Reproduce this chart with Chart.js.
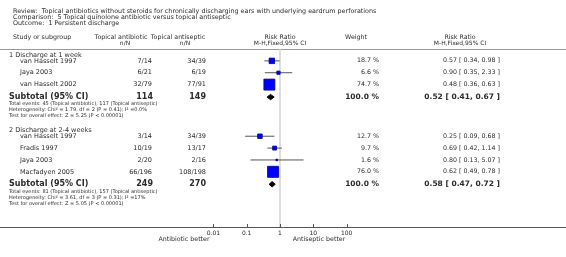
<!DOCTYPE html>
<html>
<head>
<meta charset="utf-8">
<script src="https://cdn.jsdelivr.net/npm/chart.js@4.4.1/dist/chart.umd.min.js"></script>
<style>
  html, body { margin: 0; padding: 0; background: #fff; }
  #wrap { width: 566px; height: 257px; position: relative; }
</style>
</head>
<body>
<div id="wrap"><canvas id="forest"></canvas></div>
<script>
const reviewTitle = 'Review:  Topical antibiotics without steroids for chronically discharging ears with underlying eardrum perforations';
const comparisonTitle = 'Comparison:  5 Topical quinolone antibiotic versus topical antiseptic';
const outcomeTitle = 'Outcome:  1 Persistent discharge';

const groupTitles = ['1 Discharge at 1 week', '2 Discharge at 2-4 weeks'];
const studyNames = [
  ['van Hasselt 1997', 'Jaya 2003', 'van Hasselt 2002'],
  ['van Hasselt 1997', 'Fradis 1997', 'Jaya 2003', 'Macfadyen 2005']
];
const antibioticNN = [['7/14', '6/21', '32/79'], ['3/14', '10/19', '2/20', '66/196']];
const antisepticNN = [['34/39', '6/19', '77/91'], ['34/39', '13/17', '2/16', '108/198']];
const weights = [[18.7, 6.6, 74.7], [12.7, 9.7, 1.6, 76.0]];
const riskRatio = [[0.57, 0.90, 0.48], [0.25, 0.69, 0.80, 0.62]];
const ciLow = [[0.34, 0.35, 0.36], [0.09, 0.42, 0.13, 0.49]];
const ciHigh = [[0.98, 2.33, 0.63], [0.68, 1.14, 5.07, 0.78]];

const subtotalN = [[114, 149], [249, 270]];
const subtotalRR = [0.52, 0.58];
const subtotalLow = [0.41, 0.47];
const subtotalHigh = [0.67, 0.72];
const totalEvents = [[45, 117], [81, 157]];
const heterogeneity = ['Chi\u00b2 = 1.79, df = 2 (P = 0.41); I\u00b2 =0.0%', 'Chi\u00b2 = 3.61, df = 3 (P = 0.31); I\u00b2 =17%'];
const overallEffect = ['Z = 5.25 (P < 0.00001)', 'Z = 5.05 (P < 0.00001)'];

const xTicks = [0.01, 0.1, 1, 10, 100];

// row layout, in "line" units down from the header rule
const rows = [];
let pos = 1.0;
groupTitles.forEach((g, gi) => {
  rows.push({kind: 'group', y: pos, gi});
  pos += 1.0;
  studyNames[gi].forEach((n, i) => {
    if (i > 0) pos += 2;
    rows.push({kind: 'study', y: pos, gi, i});
  });
  pos += 2.1;
  rows.push({kind: 'subtotal', y: pos, gi});
  pos += 1.2;
  rows.push({kind: 'foot', y: pos, text: 'Total events: ' + totalEvents[gi][0] + ' (Topical antibiotic), ' + totalEvents[gi][1] + ' (Topical antiseptic)'});
  pos += 1.0;
  rows.push({kind: 'foot', y: pos, text: 'Heterogeneity: ' + heterogeneity[gi]});
  pos += 1.0;
  rows.push({kind: 'foot', y: pos, text: 'Test for overall effect: ' + overallEffect[gi]});
  pos += 2.4;
});
const Y_MAX = 30;

const rrText = (rr, lo, hi) => rr.toFixed(2) + ' [ ' + lo.toFixed(2) + ', ' + hi.toFixed(2) + ' ]';

// datasets
const studyRows = rows.filter(r => r.kind === 'study');
const ciData = [];
studyRows.forEach(r => {
  ciData.push({x: ciLow[r.gi][r.i], y: r.y});
  ciData.push({x: ciHigh[r.gi][r.i], y: r.y});
  ciData.push({x: 1, y: null});
});
const squareData = studyRows.map(r => ({x: riskRatio[r.gi][r.i], y: r.y}));
const squareRadius = studyRows.map(r => 1.27 * Math.sqrt(weights[r.gi][r.i]) / Math.SQRT2);

const diamondSets = rows.filter(r => r.kind === 'subtotal').map(r => ({
  type: 'line',
  data: [
    {x: subtotalLow[r.gi], y: r.y},
    {x: subtotalRR[r.gi], y: r.y - 0.45},
    {x: subtotalHigh[r.gi], y: r.y},
    {x: subtotalRR[r.gi], y: r.y + 0.45},
    {x: subtotalLow[r.gi], y: r.y}
  ],
  borderColor: '#000',
  backgroundColor: '#000',
  borderWidth: 1,
  fill: 'shape',
  pointRadius: 0,
  tension: 0,
  order: 1
}));

const FONT = '"DejaVu Sans", sans-serif';
const INK = '#2b2b2b';

function txt(ctx, s, x, y, size, align, bold) {
  ctx.font = (bold ? 'bold ' : '') + size + 'px ' + FONT;
  ctx.textAlign = align || 'left';
  ctx.textBaseline = 'middle';
  ctx.fillStyle = INK;
  ctx.fillText(s, x, y);
}

const tablePlugin = {
  id: 'forestTable',
  beforeDatasetsDraw(chart) {
    const ctx = chart.ctx;
    const area = chart.chartArea;
    ctx.save();
    ctx.strokeStyle = '#9a9a9a';
    ctx.lineWidth = 1;
    ctx.beginPath();
    ctx.moveTo(0, area.top + 0.5);
    ctx.lineTo(chart.width, area.top + 0.5);
    ctx.stroke();
    ctx.restore();
  },
  afterDraw(chart) {
    const ctx = chart.ctx;
    const xs = chart.scales.x;
    const ys = chart.scales.y;
    const area = chart.chartArea;
    const zero = xs.getPixelForValue(1);
    ctx.save();

    txt(ctx, reviewTitle, 13, 11.5, 6.4);
    txt(ctx, comparisonTitle, 13, 17.4, 6.4);
    txt(ctx, outcomeTitle, 13, 23.3, 6.4);

    const h1 = 37.5, h2 = 43.3;
    txt(ctx, 'Study or subgroup', 13, h1, 6.3);
    txt(ctx, 'Topical antibiotic', 121, h1, 6.3, 'center');
    txt(ctx, 'n/N', 125, h2, 6, 'center');
    txt(ctx, 'Topical antiseptic', 178, h1, 6.3, 'center');
    txt(ctx, 'n/N', 185, h2, 6, 'center');
    txt(ctx, 'Risk Ratio', zero, h1, 6.3, 'center');
    txt(ctx, 'M-H,Fixed,95% CI', zero, h2, 6, 'center');
    txt(ctx, 'Weight', 356, h1, 6.3, 'center');
    txt(ctx, 'Risk Ratio', 460, h1, 6.3, 'center');
    txt(ctx, 'M-H,Fixed,95% CI', 460, h2, 6, 'center');

    rows.forEach(r => {
      const y = ys.getPixelForValue(r.y);
      if (r.kind === 'group') {
        txt(ctx, groupTitles[r.gi], 9, y, 6.5);
      } else if (r.kind === 'study') {
        txt(ctx, studyNames[r.gi][r.i], 20, y, 6.5);
        txt(ctx, antibioticNN[r.gi][r.i], 152, y, 6.5, 'right');
        txt(ctx, antisepticNN[r.gi][r.i], 206, y, 6.5, 'right');
        txt(ctx, weights[r.gi][r.i].toFixed(1) + ' %', 379, y, 6.3, 'right');
        txt(ctx, rrText(riskRatio[r.gi][r.i], ciLow[r.gi][r.i], ciHigh[r.gi][r.i]), 500, y, 6.3, 'right');
      } else if (r.kind === 'subtotal') {
        txt(ctx, 'Subtotal (95% CI)', 9, y, 8, 'left', true);
        txt(ctx, String(subtotalN[r.gi][0]), 153, y, 8, 'right', true);
        txt(ctx, String(subtotalN[r.gi][1]), 206, y, 8, 'right', true);
        txt(ctx, '100.0 %', 379, y, 7.5, 'right', true);
        txt(ctx, rrText(subtotalRR[r.gi], subtotalLow[r.gi], subtotalHigh[r.gi]), 500, y, 7.5, 'right', true);
      } else {
        txt(ctx, r.text, 9, y, 5, 'left');
      }
    });

    // tick marks pointing up from the axis
    ctx.strokeStyle = '#555';
    ctx.lineWidth = 1;
    xTicks.forEach(v => {
      const x = Math.round(xs.getPixelForValue(v)) + 0.5;
      ctx.beginPath();
      ctx.moveTo(x, area.bottom);
      ctx.lineTo(x, area.bottom - 3);
      ctx.stroke();
    });

    const ly = xs.bottom;
    txt(ctx, 'Antibiotic better', zero - 96, ly, 6.3, 'center');
    txt(ctx, 'Antiseptic better', zero + 39, ly, 6.3, 'center');
    ctx.restore();
  }
};

new Chart(document.getElementById('forest'), {
  type: 'scatter',
  data: {
    datasets: [
      {
        type: 'line',
        data: [{x: 1, y: 0}, {x: 1, y: Y_MAX}],
        borderColor: '#d4d4d4',
        borderWidth: 1.5,
        pointRadius: 0,
        order: 4
      },
      {
        type: 'line',
        data: ciData,
        borderColor: '#555',
        borderWidth: 1,
        pointRadius: 0,
        spanGaps: false,
        order: 3
      },
      {
        type: 'scatter',
        data: squareData,
        pointStyle: 'rect',
        pointRadius: squareRadius,
        backgroundColor: '#0000ff',
        borderColor: '#000080',
        borderWidth: 0.8,
        order: 2
      },
      ...diamondSets
    ]
  },
  options: {
    responsive: true,
    maintainAspectRatio: false,
    animation: false,
    events: [],
    layout: {autoPadding: false, padding: {top: 49, bottom: 18, left: 0, right: 0}},
    plugins: {legend: {display: false}, tooltip: {enabled: false}},
    scales: {
      x: {
        type: 'logarithmic',
        min: Math.pow(10, -8.4),
        max: Math.pow(10, 8.58),
        bounds: 'data',
        afterBuildTicks: (axis) => {
          axis.ticks = xTicks.map(v => ({value: v}));
        },
        afterFit: (axis) => {
          axis.paddingLeft = 0;
          axis.paddingRight = 0;
          axis.height = 12;
        },
        grid: {drawOnChartArea: false, drawTicks: false},
        border: {display: true, color: '#555', width: 1},
        ticks: {
          autoSkip: false,
          maxRotation: 0,
          padding: 3,
          color: INK,
          font: {family: 'DejaVu Sans', size: 6},
          callback: (v) => String(v)
        }
      },
      y: {
        type: 'linear',
        min: 0,
        max: Y_MAX,
        reverse: true,
        display: false
      }
    }
  },
  plugins: [tablePlugin]
});
</script>
</body>
</html>
